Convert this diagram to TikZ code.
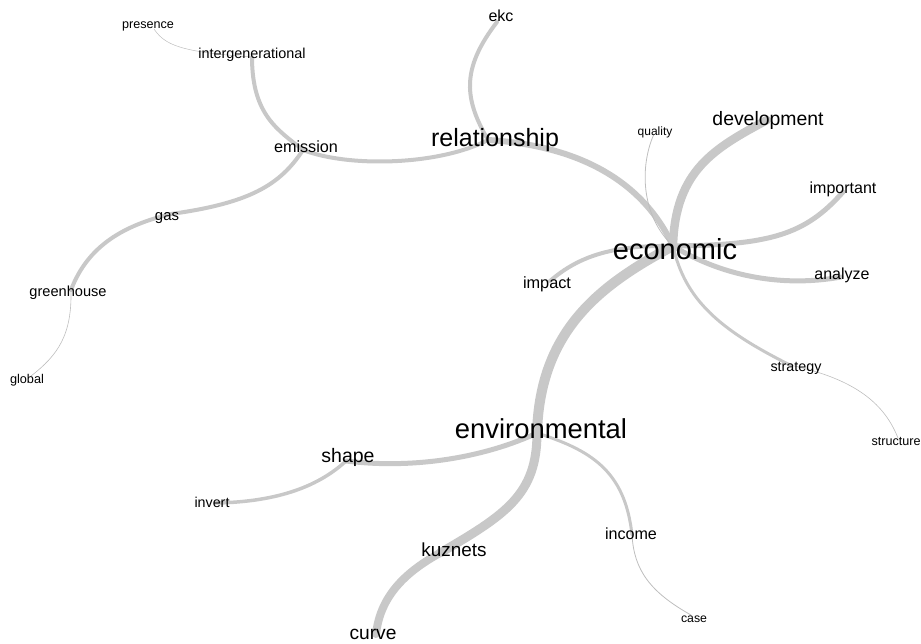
\documentclass[tikz,border=0pt]{standalone}
\usepackage{fontspec}
\setmainfont{Liberation Sans}
\definecolor{edgegray}{HTML}{C8C8C8}
\definecolor{thingray}{HTML}{BEBEBE}
\tikzset{
  lab/.style={font=\fontsize{#1}{#1}\selectfont, inner sep=0pt, anchor=base, yshift={-0.26*#1pt}, text=black},
  link/.style={draw=edgegray, line width=#1, line cap=round},
  thin link/.style={draw=thingray, line width=#1, line cap=round}
}
\begin{document}
\begin{tikzpicture}[x=1pt,y=-1pt]
\useasboundingbox (0,0) rectangle (921,643);
% edge end points (node positions)
\coordinate (presence) at (154,29);
\coordinate (intergenerational) at (252,57);
\coordinate (emission) at (303,150);
\coordinate (ekc) at (497,22);
\coordinate (relationship) at (488,140);
\coordinate (quality) at (654,134);
\coordinate (development) at (767,120);
\coordinate (important) at (843,192);
\coordinate (economic) at (673,246);
\coordinate (analyze) at (841,277);
\coordinate (impact) at (550,281);
\coordinate (strategy) at (790,365);
\coordinate (structure) at (898,438);
\coordinate (environmental) at (537,433);
\coordinate (shape) at (346,461);
\coordinate (invert) at (215,503);
\coordinate (kuznets) at (440,553);
\coordinate (curve) at (376,634);
\coordinate (income) at (632,535);
\coordinate (case) at (691,615);
\coordinate (gas) at (171,214);
\coordinate (greenhouse) at (71,290);
\coordinate (global) at (31,376);
% edges
\draw[thin link=0.5] (presence) .. controls (165,45) and (180,52) .. (intergenerational);
\draw[link=4] (intergenerational) .. controls (252,115) and (278,130) .. (emission);
\draw[link=4] (emission) .. controls (350,168) and (440,165) .. (relationship);
\draw[link=4] (emission) .. controls (280,185) and (250,203) .. (gas);
\draw[link=4] (gas) .. controls (125,225) and (88,245) .. (greenhouse);
\draw[thin link=0.6] (greenhouse) .. controls (72,335) and (58,355) .. (global);
\draw[link=4] (ekc) .. controls (460,70) and (465,100) .. (relationship);
\draw[link=6] (relationship) .. controls (570,145) and (640,175) .. (economic);
\draw[thin link=0.8] (quality) .. controls (640,165) and (640,215) .. (economic);
\draw[link=8.5] (development) .. controls (715,148) and (675,170) .. (economic);
\draw[link=5] (important) .. controls (805,235) and (770,245) .. (economic);
\draw[link=5] (analyze) .. controls (780,288) and (720,275) .. (economic);
\draw[link=4] (impact) .. controls (580,255) and (615,245) .. (economic);
\draw[link=3] (economic) .. controls (685,300) and (720,330) .. (strategy);
\draw[thin link=0.6] (strategy) .. controls (850,378) and (883,400) .. (structure);
\draw[link=10] (economic) .. controls (600,285) and (540,330) .. (environmental);
\draw[link=5] (environmental) .. controls (490,455) and (420,470) .. (shape);
\draw[link=3.5] (shape) .. controls (320,485) and (280,502) .. (invert);
\draw[link=9] (environmental) .. controls (537,495) and (505,515) .. (kuznets);
\draw[link=8] (kuznets) .. controls (400,575) and (380,600) .. (curve);
\draw[link=3] (environmental) .. controls (590,450) and (625,470) .. (income);
\draw[thin link=0.8] (income) .. controls (634,570) and (650,592) .. (case);
% labels
\node[lab=12.6] (l-presence) at (148,25) {presence};
\node[lab=14.4] (l-intergenerational) at (252,55) {intergenerational};
\node[lab=16.2] (l-emission) at (306,148) {emission};
\node[lab=16] (l-ekc) at (501,17) {ekc};
\node[lab=25] (l-relationship) at (495,139.5) {relationship};
\node[lab=12] (l-quality) at (655,132) {quality};
\node[lab=19.4] (l-development) at (768,120) {development};
\node[lab=16] (l-important) at (843,189) {important};
\node[lab=29] (l-economic) at (675,251.5) {economic};
\node[lab=16] (l-analyze) at (842,275) {analyze};
\node[lab=16.3] (l-impact) at (547,284) {impact};
\node[lab=14.3] (l-strategy) at (796,368) {strategy};
\node[lab=12.6] (l-structure) at (896,442) {structure};
\node[lab=27.4] (l-environmental) at (541,431) {environmental};
\node[lab=19.5] (l-shape) at (348,457) {shape};
\node[lab=14.3] (l-invert) at (212,504) {invert};
\node[lab=18.9] (l-kuznets) at (454,552) {kuznets};
\node[lab=19.2] (l-curve) at (373,634.5) {curve};
\node[lab=16.1] (l-income) at (631,535) {income};
\node[lab=12.3] (l-case) at (694,619) {case};
\node[lab=14.9] (l-gas) at (167,217) {gas};
\node[lab=14.6] (l-greenhouse) at (68,293) {greenhouse};
\node[lab=12.7] (l-global) at (27,380) {global};
\end{tikzpicture}
\end{document}
